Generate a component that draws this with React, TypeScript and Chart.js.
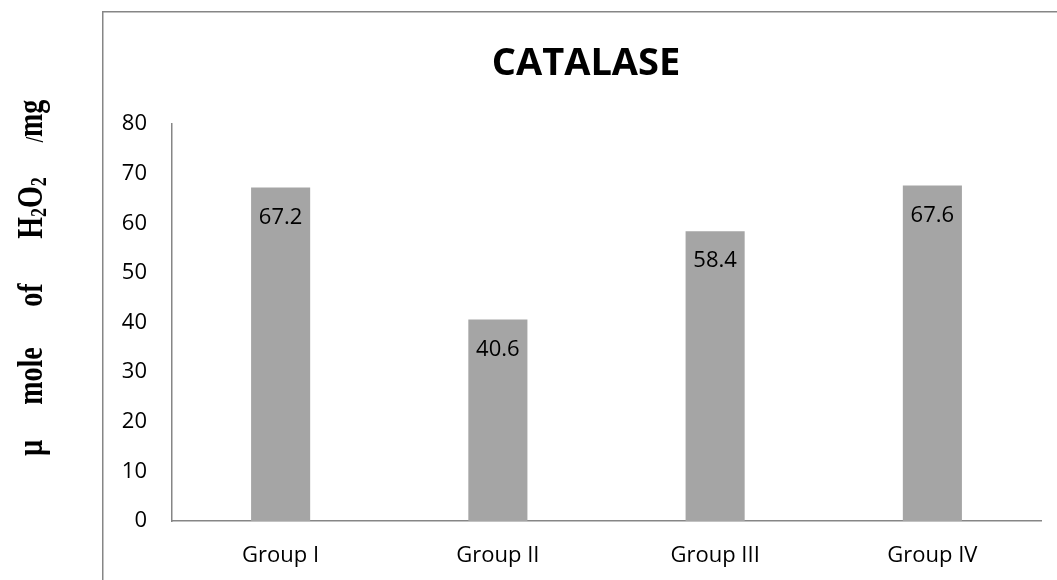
import React, { useEffect, useRef } from "react";
import { Chart, registerables } from "chart.js";

Chart.register(...registerables);

const categories = ["Group I", "Group II", "Group III", "Group IV"];
const catalaseValues = [67.2, 40.6, 58.4, 67.6];
const yTicks = [0, 10, 20, 30, 40, 50, 60, 70, 80];
const chartTitle = "CATALASE";

const AXIS_COLOR = "#868686";
const BAR_COLOR = "#a5a5a5";
const SANS = "'Open Sans', 'DejaVu Sans', sans-serif";
const SERIF = "'Liberation Serif', 'DejaVu Serif', serif";

const decorPlugin = {
  id: "decor",
  beforeDraw(chart: any) {
    const ctx = chart.ctx;
    ctx.save();
    ctx.strokeStyle = AXIS_COLOR;
    ctx.lineWidth = 1.5;
    ctx.beginPath();
    ctx.moveTo(102.75, 2000);
    ctx.lineTo(102.75, 11.75);
    ctx.lineTo(2000, 11.75);
    ctx.stroke();
    ctx.restore();
  },
  afterDraw(chart: any) {
    const ctx = chart.ctx;
    ctx.save();
    // title
    ctx.fillStyle = "#000";
    ctx.font = `bold 38px ${SANS}`;
    ctx.textAlign = "center";
    ctx.textBaseline = "middle";
    ctx.fillText(chartTitle, 586, 64);

    // y-axis title, rotated, drawn word by word
    const baseX = 42;
    const big = `bold 28px ${SERIF}`;
    const small = `bold 18px ${SERIF}`;
    const slash = `bold 19px ${SERIF}`;
    const words: { y: number; parts: { t: string; f: string; dy: number }[] }[] = [
      { y: 448, parts: [{ t: "\u00b5", f: big, dy: 0 }] },
      { y: 376, parts: [{ t: "mole", f: big, dy: 0 }] },
      { y: 295, parts: [{ t: "of", f: big, dy: 0 }] },
      {
        y: 208,
        parts: [
          { t: "H", f: big, dy: 0 },
          { t: "2", f: small, dy: 3 },
          { t: "O", f: big, dy: 0 },
          { t: "2", f: small, dy: 3 },
        ],
      },
      {
        y: 121,
        parts: [
          { t: "/", f: slash, dy: 1 },
          { t: "mg", f: big, dy: 0 },
        ],
      },
    ];
    ctx.textAlign = "left";
    ctx.textBaseline = "alphabetic";
    for (const w of words) {
      let total = 0;
      for (const p of w.parts) {
        ctx.font = p.f;
        total += ctx.measureText(p.t).width;
      }
      ctx.save();
      ctx.translate(baseX, w.y);
      ctx.rotate(-Math.PI / 2);
      ctx.scale(1, 1.3);
      let cx = -total / 2;
      for (const p of w.parts) {
        ctx.font = p.f;
        ctx.fillText(p.t, cx, p.dy);
        cx += ctx.measureText(p.t).width;
      }
      ctx.restore();
    }

    // value labels inside bars
    const meta = chart.getDatasetMeta(0);
    ctx.font = `22px ${SANS}`;
    ctx.textAlign = "center";
    ctx.textBaseline = "middle";
    ctx.fillStyle = "#000";
    meta.data.forEach((bar: any, i: number) => {
      ctx.fillText(catalaseValues[i].toFixed(1), bar.x, bar.y + 30);
    });
    ctx.restore();
  },
};

export default function App() {
  const ref = useRef<HTMLCanvasElement | null>(null);
  useEffect(() => {
    if (!ref.current) return;
    const chart = new Chart(ref.current, {
      type: "bar",
      data: {
        labels: categories,
        datasets: [
          {
            data: catalaseValues,
            backgroundColor: BAR_COLOR,
            borderWidth: 0,
            barPercentage: 0.272,
            categoryPercentage: 1,
          },
        ],
      },
      options: {
        responsive: false,
        animation: false,
        layout: { padding: { top: 124, right: 16, left: 0, bottom: 0 } },
        plugins: {
          legend: { display: false },
          title: { display: false },
          tooltip: { enabled: false },
        },
        scales: {
          x: {
            grid: { display: false, drawTicks: false },
            border: { display: true, color: AXIS_COLOR, width: 1.5 },
            ticks: {
              color: "#000",
              font: { family: SANS, size: 22 },
              padding: 22,
            },
            afterFit: (s: any) => {
              s.height = 59;
            },
          },
          y: {
            min: 0,
            max: 80,
            afterBuildTicks: (s: any) => {
              s.ticks = yTicks.map((v) => ({ value: v }));
            },
            grid: { display: false, drawTicks: false },
            border: { display: true, color: AXIS_COLOR, width: 1.5 },
            ticks: {
              color: "#000",
              font: { family: SANS, size: 22 },
              padding: 25,
            },
            afterFit: (s: any) => {
              s.width = 172;
            },
          },
        },
      },
      plugins: [decorPlugin],
    });
    return () => chart.destroy();
  }, []);
  return (
    <div style={{ position: "fixed", left: 0, top: 0, width: 1057, height: 580, background: "#fff" }}>
      <canvas ref={ref} width={1057} height={580} style={{ display: "block" }} />
    </div>
  );
}
